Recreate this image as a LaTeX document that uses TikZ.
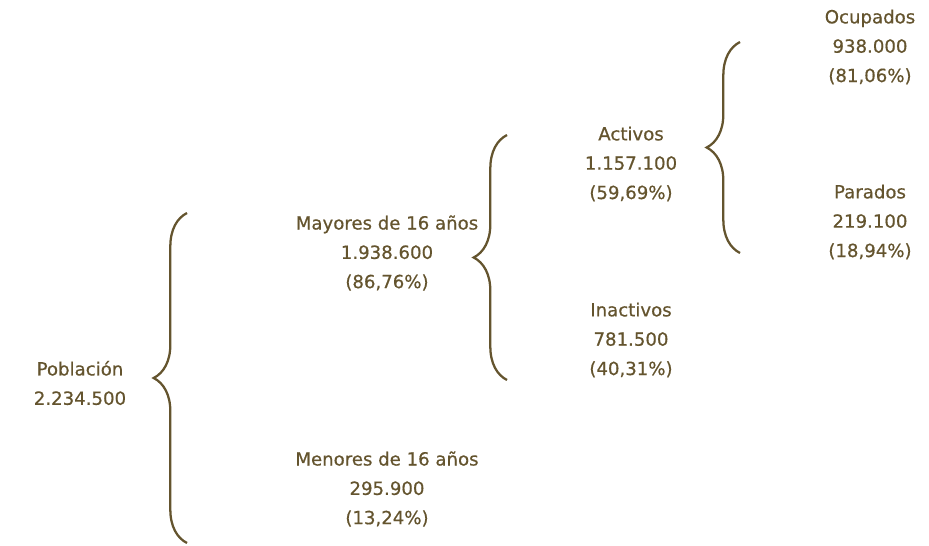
\documentclass[tikz,border=0pt]{standalone}
\usepackage{fontspec}
\setmainfont{DejaVu Sans}[FakeBold=0.6]
\usetikzlibrary{decorations.pathreplacing, positioning}
\definecolor{olivo}{RGB}{100,84,46}

\begin{document}
\begin{tikzpicture}[x=0.75pt, y=-0.75pt,
  dato/.style={align=center, inner sep=0pt, text=olivo, font=\fontsize{13.6}{22}\selectfont},
  llave/.style={draw=olivo, line width=1.7pt, decorate, decoration={brace, amplitude=25pt}}
]
\useasboundingbox (0,0) rectangle (929,546);
% textos
\node[dato] (pob) at (80,383) {Población\\2.234.500};
\node[dato] (mayores) at (387,253) {Mayores de 16 años\\1.938.600\\(86,76\%)};
\node[dato] (menores) at (387,489) {Menores de 16 años\\295.900\\(13,24\%)};
\node[dato] (activos) at (631,164) {Activos\\1.157.100\\(59,69\%)};
\node[dato] (inactivos) at (631,340) {Inactivos\\781.500\\(40,31\%)};
\node[dato] (ocupados) at (870,47) {Ocupados\\938.000\\(81,06\%)};
\node[dato] (parados) at (870,222) {Parados\\219.100\\(18,94\%)};
% llaves
\coordinate (l1a) at (187,543);
\coordinate (l1b) at (187,213);
\coordinate (l2a) at (507,380);
\coordinate (l2b) at (507,135);
\coordinate (l3a) at (740,253);
\coordinate (l3b) at (740,42);
\draw[llave] (l1a) -- (l1b);
\draw[llave] (l2a) -- (l2b);
\draw[llave] (l3a) -- (l3b);
\end{tikzpicture}
\end{document}
